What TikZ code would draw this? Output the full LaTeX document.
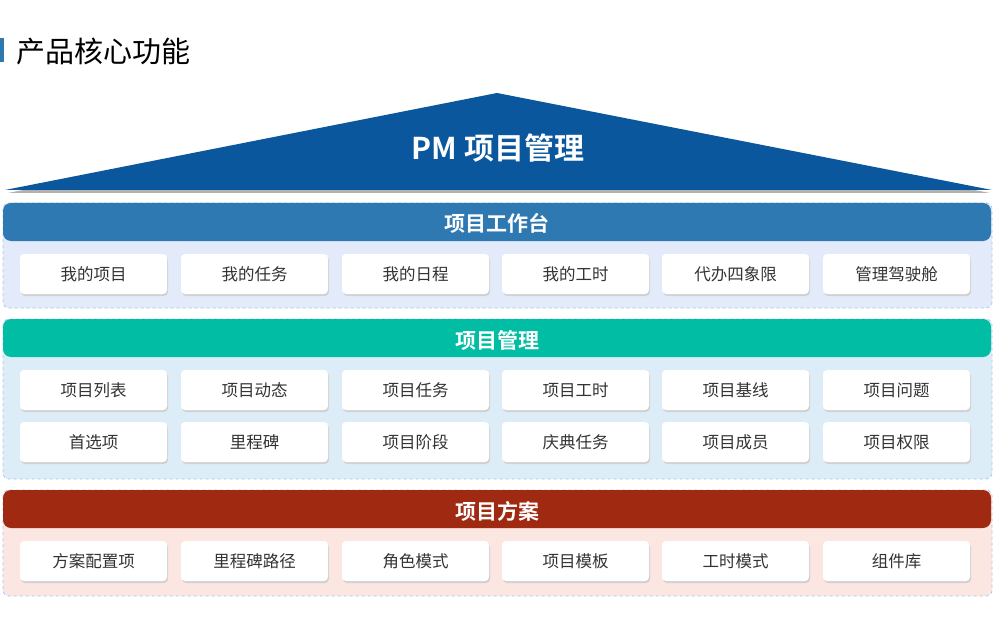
\documentclass[tikz,border=0pt]{standalone}
\usepackage{fontspec}
\setmainfont{Noto Sans CJK SC}[BoldFont={* Bold}]
\usetikzlibrary{shadows}
\definecolor{roofblue}{HTML}{0B579E}
\definecolor{hdrA}{HTML}{2F79B2}
\definecolor{hdrB}{HTML}{00BDA3}
\definecolor{hdrC}{HTML}{A02912}
\definecolor{bgA}{HTML}{E3EBFB}
\definecolor{bgB}{HTML}{DDEDF8}
\definecolor{bgC}{HTML}{FCE6E2}
\definecolor{dashc}{HTML}{A9C7EF}
\definecolor{txt}{HTML}{333333}
\tikzset{
  panel/.style={draw=dashc, dashed, line width=0.8pt, rounded corners=6pt},
  header/.style={rounded corners=8pt},
  hdrtext/.style={text=white, font=\fontsize{21}{21}\selectfont\bfseries},
  item/.style={fill=white, rounded corners=4pt, minimum width=147pt, minimum height=40pt,
    text=txt, font=\fontsize{16.5}{17}\selectfont, inner sep=0pt,
    drop shadow={shadow xshift=1pt, shadow yshift=-2pt, fill=black!18, opacity=1}},
}
\begin{document}
\begin{tikzpicture}[x=1pt,y=-1pt]
\useasboundingbox (0,0) rectangle (1000,620);
\fill[white] (0,0) rectangle (1000,620);
% title
\fill[hdrA] (0,38) rectangle (4,62);
\node[anchor=west, inner sep=0pt, font=\fontsize{29}{29}\selectfont, text=black] (title) at (16,52) {产品核心功能};
% roof
\fill[black!30] (8,193) -- (497,97) -- (990,193) -- cycle;
\fill[roofblue] (5,190) -- (497,93) -- (992,190) -- cycle;
\node[text=white, font=\fontsize{30}{30}\selectfont\bfseries, inner sep=0pt] (roof) at (498,148) {PM 项目管理};
% section A
\filldraw[panel, fill=bgA] (3,203) rectangle (992,308);
\fill[hdrA, header] (3,203) rectangle (991,241);
\node[hdrtext] (hA) at (497,223) {项目工作台};
\node[item] (a1) at (93.5,274) {我的项目};
\node[item] (a2) at (254.5,274) {我的任务};
\node[item] (a3) at (415.5,274) {我的日程};
\node[item] (a4) at (575.5,274) {我的工时};
\node[item] (a5) at (735.5,274) {代办四象限};
\node[item] (a6) at (896.5,274) {管理驾驶舱};
% section B
\filldraw[panel, fill=bgB] (3,319) rectangle (992,479);
\fill[hdrB, header] (3,319) rectangle (991,357);
\node[hdrtext] (hB) at (497,340) {项目管理};
\node[item] (b1) at (93.5,390) {项目列表};
\node[item] (b2) at (254.5,390) {项目动态};
\node[item] (b3) at (415.5,390) {项目任务};
\node[item] (b4) at (575.5,390) {项目工时};
\node[item] (b5) at (735.5,390) {项目基线};
\node[item] (b6) at (896.5,390) {项目问题};
\node[item] (c1) at (93.5,442) {首选项};
\node[item] (c2) at (254.5,442) {里程碑};
\node[item] (c3) at (415.5,442) {项目阶段};
\node[item] (c4) at (575.5,442) {庆典任务};
\node[item] (c5) at (735.5,442) {项目成员};
\node[item] (c6) at (896.5,442) {项目权限};
% section C
\filldraw[panel, fill=bgC] (3,490) rectangle (992,596);
\fill[hdrC, header] (3,490) rectangle (991,528);
\node[hdrtext] (hC) at (497,511) {项目方案};
\node[item] (d1) at (93.5,561) {方案配置项};
\node[item] (d2) at (254.5,561) {里程碑路径};
\node[item] (d3) at (415.5,561) {角色模式};
\node[item] (d4) at (575.5,561) {项目模板};
\node[item] (d5) at (735.5,561) {工时模式};
\node[item] (d6) at (896.5,561) {组件库};
\end{tikzpicture}
\end{document}
